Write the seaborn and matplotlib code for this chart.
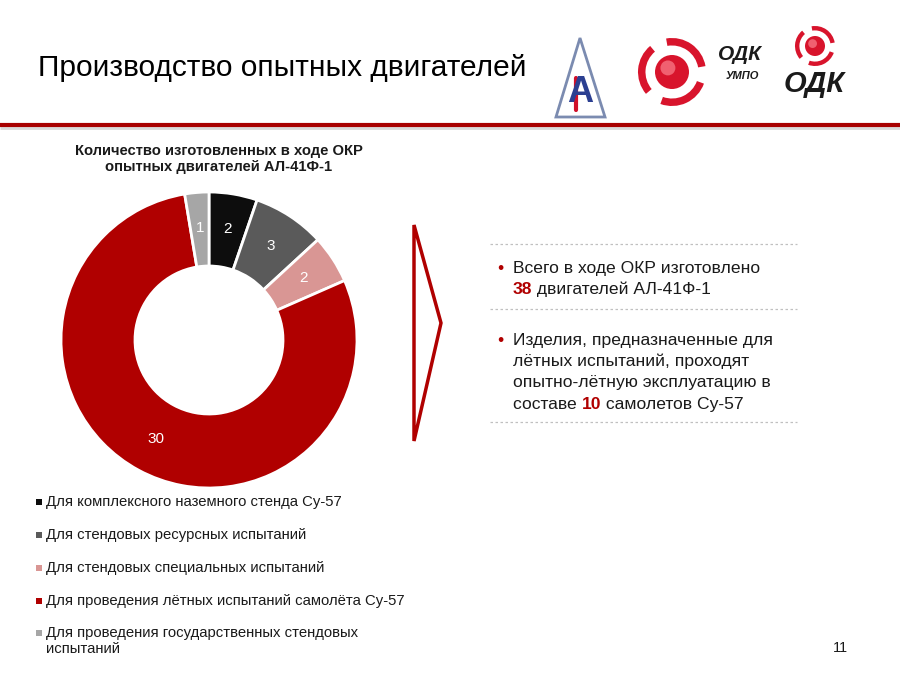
import matplotlib
matplotlib.use("Agg")
import matplotlib.pyplot as plt
import seaborn as sns
from matplotlib.patches import Polygon, Circle, Wedge

# data
categories = [
    "Для комплексного наземного стенда Су-57",
    "Для стендовых ресурсных испытаний",
    "Для стендовых специальных испытаний",
    "Для проведения лётных испытаний самолёта Су-57",
    "Для проведения государственных стендовых\nиспытаний",
]
counts = [2, 3, 2, 30, 1]
colors = ["#0d0d0d", "#5a5a5a", "#d99694", "#b00000", "#a6a6a6"]

title = "Производство опытных двигателей"
chart_title = "Количество изготовленных в ходе ОКР\nопытных двигателей АЛ-41Ф-1"
page_no = "11"

sns.set_theme(style="white")
plt.rcParams["font.family"] = ["Liberation Sans", "DejaVu Sans"]

RED = "#b00000"
palette = sns.color_palette(colors)

fig = plt.figure(figsize=(9, 6.75), dpi=100)

# overlay axes in pixel coordinates
bg = fig.add_axes([0, 0, 1, 1])
bg.set_xlim(0, 900)
bg.set_ylim(675, 0)
bg.axis("off")

# header
bg.text(38, 68, title, fontsize=21.5, va="center", ha="left", color="black")
bg.plot([0, 900], [128, 128], color="#d9d9d9", lw=2, solid_capstyle="butt")
bg.plot([0, 900], [125, 125], color="#a80000", lw=3, solid_capstyle="butt")

# logos (simplified)
bg.add_patch(Polygon([[580, 38], [556, 117], [605, 117]], closed=True,
                     facecolor="white", edgecolor="#7b8bb0", lw=2))
bg.text(580, 92, "А", fontsize=26, fontweight="bold", color="#2b3f91",
        ha="center", va="center")
bg.plot([576, 576], [78, 110], color="#d0102a", lw=3)
for cx, cy, r in [(672, 72, 34), (815, 46, 20)]:
    for a1, a2 in [(20, 110), (140, 230), (260, 350)]:
        bg.add_patch(Wedge((cx, cy), r, a1, a2, width=r * 0.22,
                           facecolor="#d8142c", edgecolor="none"))
    bg.add_patch(Circle((cx, cy), r * 0.5, facecolor="#d8142c", edgecolor="none"))
    bg.add_patch(Circle((cx - r * 0.12, cy - r * 0.12), r * 0.22,
                        facecolor="#f06070", edgecolor="none"))
bg.text(740, 55, "ОДК", fontsize=15, fontweight="bold", fontstyle="italic",
        ha="center", va="center", color="#1a1a1a")
bg.text(742, 76, "УМПО", fontsize=8, fontweight="bold", fontstyle="italic",
        ha="center", va="center", color="#1a1a1a")
bg.text(814, 84, "ОДК", fontsize=21, fontweight="bold", fontstyle="italic",
        ha="center", va="center", color="#1a1a1a")

# chart title
bg.text(219, 159, chart_title, fontsize=10.6, fontweight="bold", ha="center",
        va="center", linespacing=1.25, color="#1a1a1a")

# donut
cx, cy, half = 209, 340, 150
ax = fig.add_axes([(cx - half) / 900, (675 - cy - half) / 675,
                   2 * half / 900, 2 * half / 675])
total = sum(counts)
wedges, texts, autotexts = ax.pie(
    counts, colors=palette, startangle=90, counterclock=False,
    radius=148 / 150, wedgeprops=dict(width=74 / 150, edgecolor="white", linewidth=2),
    autopct=lambda p: f"{round(p * total / 100)}", pctdistance=0.76,
    textprops=dict(color="white", fontsize=11),
)
ax.set_xlim(-1, 1)
ax.set_ylim(-1, 1)
ax.set_aspect("equal")
ax.axis("off")

# legend
leg_y = [502, 535, 568, 601, 641]
for lab, col, y in zip(categories, colors, leg_y):
    top = y - 8 if "\n" in lab else y
    bg.scatter([39], [top], marker="s", s=14, color=col, linewidths=0)
    bg.text(46, y, lab, fontsize=10.7, ha="left", va="center",
            linespacing=1.15, color="#1a1a1a")

# chevron (triangle outline)
bg.add_patch(Polygon([[414, 225], [441, 323], [414, 441]], closed=True,
                     facecolor="none", edgecolor=RED, lw=2.5, joinstyle="miter"))

# right text block
for y in [244, 309, 422]:
    bg.plot([490, 797], [y, y], color="#c0c0c0", lw=0.9, ls=(0, (2, 2)))

fs = 12.6
lh = 21.5
bg.text(497, 268, "•", fontsize=fs, color=RED, ha="left", va="center")
bg.text(513, 268, "Всего в ходе ОКР изготовлено", fontsize=fs, ha="left",
        va="center", color="#1a1a1a")
t = bg.text(513, 268 + lh, "38", fontsize=fs, fontweight="bold", color=RED,
            ha="left", va="center")
bg.annotate(" двигателей АЛ-41Ф-1", xy=(1, 0.5), xycoords=t, fontsize=fs,
            ha="left", va="center", color="#1a1a1a")

lines2 = ["Изделия, предназначенные для", "лётных испытаний, проходят",
          "опытно-лётную эксплуатацию в"]
y0 = 340
bg.text(497, y0, "•", fontsize=fs, color=RED, ha="left", va="center")
for i, s in enumerate(lines2):
    bg.text(513, y0 + i * lh, s, fontsize=fs, ha="left", va="center", color="#1a1a1a")
t = bg.text(513, y0 + 3 * lh, "составе ", fontsize=fs, ha="left", va="center",
            color="#1a1a1a")
t = bg.annotate("10", xy=(1, 0.5), xycoords=t, fontsize=fs, fontweight="bold",
                color=RED, ha="left", va="center")
bg.annotate(" самолетов Су-57", xy=(1, 0.5), xycoords=t, fontsize=fs,
            ha="left", va="center", color="#1a1a1a")

bg.text(840, 648, page_no, fontsize=10.5, ha="center", va="center", color="#1a1a1a")

fig.savefig("out.png", dpi=100, facecolor="white")
